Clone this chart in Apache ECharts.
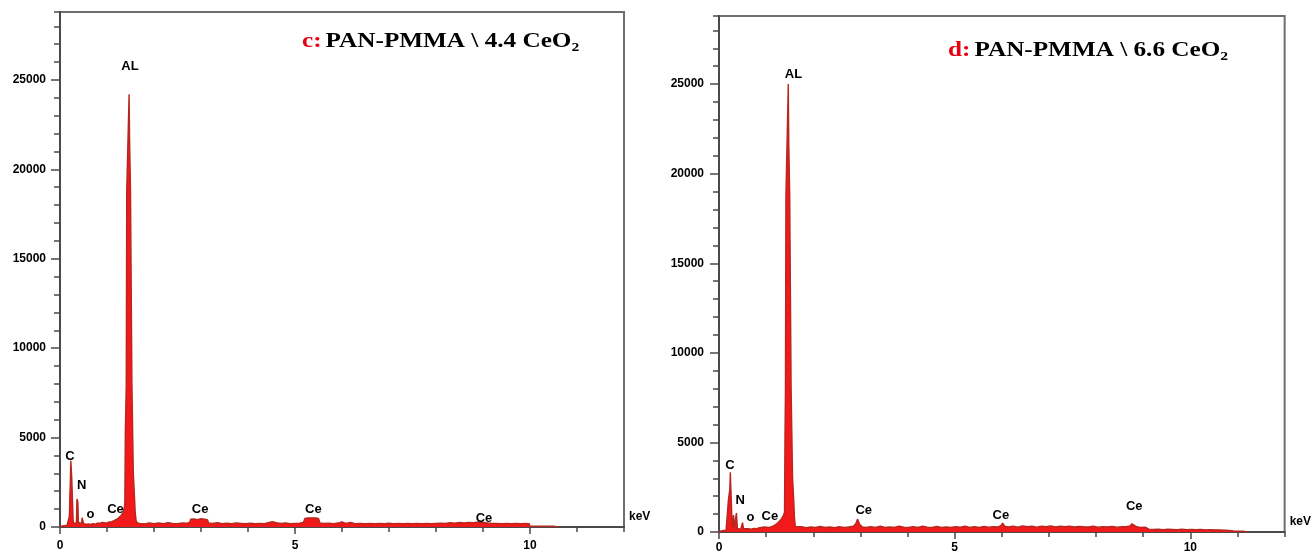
<!DOCTYPE html>
<html>
<head>
<meta charset="utf-8">
<title>EDS spectra: PAN-PMMA / CeO2</title>
<script src="https://cdn.jsdelivr.net/npm/echarts@6/dist/echarts.min.js"></script>
<style>
  html, body { margin: 0; padding: 0; background: #fff; }
  #chart { width: 1314px; height: 556px; }
</style>
</head>
<body>
<div id="chart"></div>
<script>
// EDS spectrum, sample c: [energy keV, counts]
const spectrumC = [
  [0.00, 0], [0.05, 60], [0.10, 80], [0.15, 100], [0.19, 120], [0.20, 600], [0.21, 1800],
  [0.22, 2500], [0.23, 3700], [0.24, 3700], [0.25, 2750], [0.26, 2750], [0.27, 2700],
  [0.28, 300], [0.30, 180], [0.33, 200], [0.35, 250], [0.36, 1570], [0.37, 1570],
  [0.38, 1400], [0.39, 250], [0.42, 180], [0.46, 200], [0.47, 520], [0.48, 560],
  [0.49, 420], [0.50, 200], [0.55, 150], [0.60, 170], [0.65, 140], [0.70, 180],
  [0.75, 160], [0.80, 220], [0.85, 200], [0.90, 260], [0.95, 240], [1.00, 230],
  [1.05, 280], [1.10, 300], [1.15, 350], [1.20, 420], [1.25, 520], [1.30, 650],
  [1.34, 800], [1.37, 1100], [1.38, 1400], [1.39, 5300], [1.40, 5300], [1.41, 8000],
  [1.42, 18800], [1.43, 18800], [1.44, 18800], [1.45, 18800], [1.46, 18800], [1.47, 24200],
  [1.48, 21800], [1.49, 21800], [1.50, 18800], [1.51, 18800], [1.52, 18800], [1.53, 8000],
  [1.54, 8000], [1.55, 8000], [1.56, 3000], [1.57, 3000], [1.58, 3000], [1.59, 1400],
  [1.60, 800], [1.62, 350], [1.65, 220], [1.70, 200], [1.80, 170], [1.90, 230],
  [2.00, 190], [2.10, 220], [2.20, 180], [2.30, 240], [2.40, 200], [2.50, 190],
  [2.60, 230], [2.70, 210], [2.76, 260], [2.78, 430], [2.85, 450], [2.92, 410],
  [3.00, 460], [3.08, 430], [3.14, 400], [3.16, 220], [3.25, 200], [3.35, 240],
  [3.45, 190], [3.55, 210], [3.65, 180], [3.75, 220], [3.85, 200], [3.95, 180],
  [4.05, 210], [4.15, 190], [4.25, 200], [4.35, 180], [4.45, 250], [4.52, 300],
  [4.60, 240], [4.70, 200], [4.80, 220], [4.90, 190], [5.00, 200], [5.10, 210],
  [5.18, 260], [5.21, 480], [5.28, 500], [5.36, 510], [5.44, 500], [5.50, 480],
  [5.53, 230], [5.62, 200], [5.72, 210], [5.82, 190], [5.92, 220], [6.00, 290],
  [6.08, 200], [6.18, 260], [6.28, 190], [6.40, 200], [6.50, 190], [6.60, 200],
  [6.70, 190], [6.80, 200], [6.90, 190], [7.00, 210], [7.10, 190], [7.20, 200],
  [7.30, 190], [7.40, 200], [7.50, 190], [7.60, 200], [7.70, 190], [7.80, 200],
  [7.90, 190], [8.00, 200], [8.10, 210], [8.20, 200], [8.30, 240], [8.40, 210],
  [8.50, 250], [8.60, 220], [8.70, 260], [8.80, 240], [8.90, 280], [9.00, 250],
  [9.10, 220], [9.20, 200], [9.30, 200], [9.40, 190], [9.50, 200], [9.60, 190],
  [9.70, 200], [9.80, 190], [9.90, 200], [9.98, 190], [10.00, 60], [10.10, 50],
  [10.20, 40], [10.30, 50], [10.40, 40], [10.50, 40], [10.60, 0]
];

// EDS spectrum, sample d: [energy keV, counts]
const spectrumD = [
  [0.00, 0], [0.05, 60], [0.10, 80], [0.15, 100], [0.18, 120], [0.19, 200], [0.20, 1800],
  [0.21, 1800], [0.22, 1900], [0.23, 2400], [0.24, 3340], [0.25, 3340], [0.26, 1800],
  [0.27, 1700], [0.28, 250], [0.29, 150], [0.30, 150], [0.31, 950], [0.32, 200],
  [0.34, 150], [0.36, 200], [0.37, 1060], [0.38, 1000], [0.39, 200], [0.42, 150],
  [0.46, 150], [0.49, 200], [0.50, 520], [0.51, 480], [0.52, 180], [0.56, 150],
  [0.62, 180], [0.68, 160], [0.74, 200], [0.80, 180], [0.86, 240], [0.90, 300],
  [0.96, 280], [1.00, 230], [1.05, 260], [1.10, 280], [1.15, 330], [1.20, 420],
  [1.25, 520], [1.30, 650], [1.34, 800], [1.37, 950], [1.39, 1100], [1.40, 5300],
  [1.41, 8000], [1.42, 18800], [1.43, 18800], [1.44, 18800], [1.45, 18800], [1.46, 18800],
  [1.47, 25000], [1.48, 21700], [1.49, 21700], [1.50, 18800], [1.51, 18800], [1.52, 18800],
  [1.53, 8000], [1.54, 8000], [1.55, 8000], [1.56, 3100], [1.57, 3100], [1.58, 3100],
  [1.59, 1500], [1.60, 800], [1.62, 300], [1.66, 250], [1.75, 300], [1.85, 240],
  [1.95, 280], [2.05, 260], [2.15, 310], [2.25, 250], [2.35, 280], [2.45, 240],
  [2.55, 300], [2.65, 260], [2.75, 280], [2.85, 320], [2.90, 450], [2.94, 720],
  [2.98, 450], [3.04, 280], [3.12, 250], [3.22, 300], [3.32, 260], [3.42, 320],
  [3.52, 250], [3.62, 280], [3.72, 260], [3.82, 330], [3.92, 270], [4.02, 250],
  [4.12, 300], [4.22, 260], [4.32, 320], [4.42, 270], [4.52, 250], [4.62, 310],
  [4.72, 260], [4.82, 280], [4.92, 250], [5.02, 300], [5.12, 270], [5.22, 320],
  [5.32, 260], [5.42, 290], [5.52, 250], [5.62, 310], [5.72, 270], [5.82, 300],
  [5.92, 280], [5.98, 350], [6.02, 500], [6.06, 320], [6.14, 280], [6.24, 330],
  [6.34, 270], [6.44, 340], [6.54, 290], [6.64, 320], [6.74, 270], [6.84, 330],
  [6.94, 290], [7.04, 340], [7.14, 280], [7.24, 320], [7.34, 290], [7.44, 330],
  [7.54, 280], [7.64, 310], [7.74, 290], [7.84, 280], [7.94, 320], [8.04, 270],
  [8.14, 300], [8.24, 280], [8.34, 310], [8.44, 270], [8.54, 300], [8.64, 290],
  [8.72, 340], [8.76, 460], [8.80, 350], [8.86, 290], [8.94, 260], [9.04, 270],
  [9.12, 160], [9.22, 140], [9.32, 150], [9.42, 130], [9.52, 150], [9.62, 140],
  [9.72, 130], [9.82, 150], [9.92, 130], [10.02, 140], [10.12, 130], [10.22, 140],
  [10.32, 120], [10.42, 130], [10.52, 120], [10.62, 110], [10.72, 100], [10.82, 90],
  [10.92, 60], [11.02, 50], [11.12, 40], [11.20, 0]
];

// Element annotations: [label, energy keV, counts]
const peakLabelsC = [
  ['C', 0.21, 3970], ['N', 0.46, 2350], ['o', 0.65, 730], ['Ce', 1.18, 1010],
  ['AL', 1.49, 25780], ['Ce', 2.98, 1010], ['Ce', 5.39, 1010], ['Ce', 9.02, 475]
];
const peakLabelsD = [
  ['C', 0.23, 3740], ['N', 0.45, 1790], ['o', 0.67, 840], ['Ce', 1.08, 890],
  ['AL', 1.58, 25560], ['Ce', 3.07, 1230], ['Ce', 5.98, 950], ['Ce', 8.81, 1400]
];

// Panel headings
const titleTags = ['c:', 'd:'];
const titleTexts = ['PAN-PMMA \\ 4.4 CeO', 'PAN-PMMA \\ 6.6 CeO'];
const titleSubs = ['2', '2'];

const energyRange = [0, 12];
const countRange = [0, 28800];
const energyStep = 5, energyMinorStep = 1;
const countStep = 5000, countMinorStep = 1000;
const xUnit = 'keV';

const AXIS_COLOR = '#4a4a4a';
const TEXT_COLOR = '#000';
const SANS = 'Liberation Sans, Arial, sans-serif';
const SERIF = 'Liberation Serif, Times New Roman, serif';

const grids = [
  { left: 60, top: 12, width: 564, height: 515 },
  { left: 719, top: 16, width: 566, height: 516 }
];
const xLabelMargins = [13, 10];
const yLabelMargins = [14, 15];
const plainNumber = v => String(v);

const xAxes = [], yAxes = [];
grids.forEach((g, i) => {
  // major axis: line, labelled ticks
  xAxes.push({
    gridIndex: i, type: 'value', position: 'bottom',
    min: energyRange[0], max: energyRange[1], interval: energyStep,
    axisLine: { show: true, lineStyle: { color: AXIS_COLOR, width: 2 } },
    axisTick: { show: true, length: 7, lineStyle: { color: AXIS_COLOR, width: 1.5 } },
    axisLabel: {
      show: true, margin: xLabelMargins[i], showMaxLabel: false, formatter: plainNumber,
      color: TEXT_COLOR, fontFamily: SANS, fontWeight: 'bold', fontSize: 12
    },
    splitLine: { show: false },
    name: xUnit, nameLocation: 'end', nameGap: 5,
    nameTextStyle: {
      color: TEXT_COLOR, fontFamily: SANS, fontWeight: 'bold', fontSize: 12,
      verticalAlign: 'bottom', align: 'left', padding: [0, 0, 4, 0]
    }
  });
  // minor ticks
  xAxes.push({
    gridIndex: i, type: 'value', position: 'bottom',
    min: energyRange[0], max: energyRange[1], interval: energyMinorStep,
    axisLine: { show: false },
    axisTick: { show: true, length: 5, lineStyle: { color: AXIS_COLOR, width: 1.5 } },
    axisLabel: { show: false },
    splitLine: { show: false }
  });
  yAxes.push({
    gridIndex: i, type: 'value', position: 'left',
    min: countRange[0], max: countRange[1], interval: countStep,
    axisLine: { show: true, lineStyle: { color: AXIS_COLOR, width: 2 } },
    axisTick: { show: true, length: 9, lineStyle: { color: AXIS_COLOR, width: 1.5 } },
    axisLabel: {
      show: true, margin: yLabelMargins[i], showMaxLabel: false, formatter: plainNumber,
      color: TEXT_COLOR, fontFamily: SANS, fontWeight: 'bold', fontSize: 12
    },
    splitLine: { show: false }
  });
  yAxes.push({
    gridIndex: i, type: 'value', position: 'left',
    min: countRange[0], max: countRange[1], interval: countMinorStep,
    axisLine: { show: false },
    axisTick: { show: true, length: 6, lineStyle: { color: AXIS_COLOR, width: 1.5 } },
    axisLabel: { show: false },
    splitLine: { show: false }
  });
});

const spectra = [spectrumC, spectrumD];
const peakLabels = [peakLabelsC, peakLabelsD];
const series = [];
spectra.forEach((data, i) => {
  series.push({
    type: 'line', xAxisIndex: i * 2, yAxisIndex: i * 2,
    data: data, symbol: 'none', smooth: false, z: 2,
    lineStyle: { color: '#b8261e', width: 1.4 },
    areaStyle: { color: '#f2191b', opacity: 1, origin: 'start' }
  });
  // element names placed at their data positions (zero-size markers)
  series.push({
    type: 'scatter', xAxisIndex: i * 2, yAxisIndex: i * 2, z: 5,
    symbolSize: 0, itemStyle: { color: '#000', opacity: 1 },
    data: peakLabels[i].map(([name, e, c]) => ({ name: name, value: [e, c] })),
    label: {
      show: true, position: [0, 0], align: 'center', verticalAlign: 'middle',
      formatter: '{b}', textBorderWidth: 0, opacity: 1,
      color: TEXT_COLOR, fontFamily: SANS, fontWeight: 'bold', fontSize: 13
    }
  });
});

const titleAnchors = [[302, 42], [948, 51]];
const graphic = titleAnchors.map((p, i) => ({
  type: 'text', x: p[0], y: p[1], scaleX: 1.2, z: 10,
  style: {
    text: '{r|' + titleTags[i] + '} {k|' + titleTexts[i] + '}{s|' + titleSubs[i] + '}',
    align: 'left', verticalAlign: 'middle',
    rich: {
      r: { fill: '#e60012', fontFamily: SERIF, fontWeight: 'bold', fontSize: 21, lineHeight: 24 },
      k: { fill: '#000', fontFamily: SERIF, fontWeight: 'bold', fontSize: 21, lineHeight: 24 },
      s: { fill: '#000', fontFamily: SERIF, fontWeight: 'bold', fontSize: 13, lineHeight: 16, verticalAlign: 'bottom' }
    }
  }
}));

const chart = echarts.init(document.getElementById('chart'), null, { renderer: 'canvas' });
chart.setOption({
  animation: false,
  backgroundColor: '#fff',
  grid: grids.map(g => Object.assign({ show: true, borderColor: '#6e6e6e', borderWidth: 2, backgroundColor: 'transparent' }, g)),
  xAxis: xAxes,
  yAxis: yAxes,
  series: series,
  graphic: graphic
});
</script>
</body>
</html>
